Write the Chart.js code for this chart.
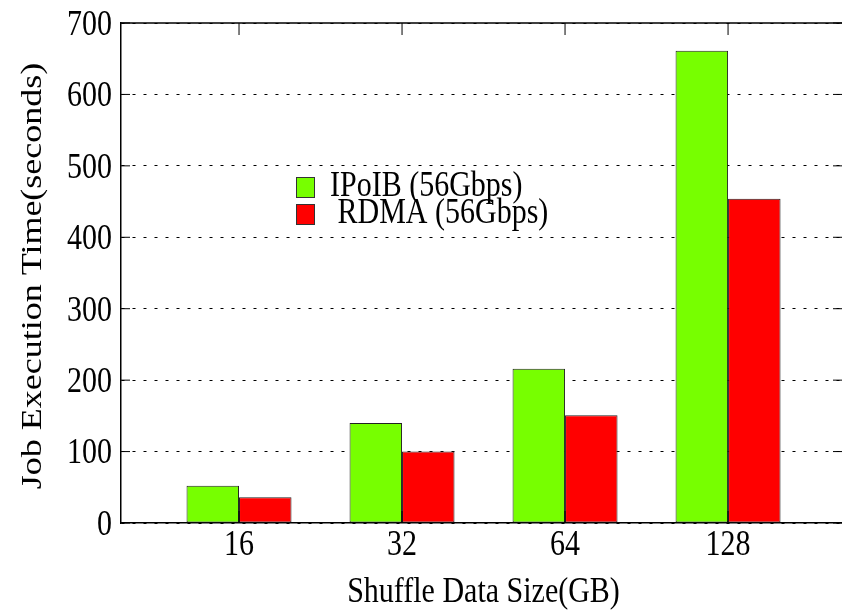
<!DOCTYPE html>
<html>
<head>
<meta charset="utf-8">
<script src="https://cdn.jsdelivr.net/npm/chart.js@4.4.1/dist/chart.umd.min.js"></script>
<style>
  html, body { margin: 0; padding: 0; background: #fff; }
</style>
</head>
<body>
<canvas id="chart" width="842" height="613"></canvas>
<script>
// data
const sizes = ["16", "32", "64", "128"];
const ipoib = [52, 140, 216, 661];
const rdma = [36, 100, 151, 454];
const seriesNames = ["IPoIB (56Gbps)", " RDMA (56Gbps)"];
const seriesColors = ["#77ff00", "#ff0000"];
const xTitle = "Shuffle Data Size(GB)";
const yTitle = "Job Execution Time(seconds)";
const yMax = 700;
const yStep = 100;

const serif = "'Liberation Serif', 'Times New Roman', 'DejaVu Serif', serif";
const FONT = "30px " + serif;
const STRETCH = 1.17; // the original gnuplot text is a bit taller than wide

// draw text stretched vertically like the original export
function tallText(ctx, text, x, y, align, sy) {
  ctx.save();
  ctx.translate(x, y);
  ctx.scale(1, sy || STRETCH);
  ctx.textAlign = align;
  ctx.textBaseline = "alphabetic";
  ctx.fillText(text, 0, 0);
  ctx.restore();
}

// gnuplot-like frame: top border, inward ticks, labels and key
const gnuFrame = {
  id: "gnuFrame",
  afterDatasetsDraw(chart) {
    const ctx = chart.ctx;
    const area = chart.chartArea;
    const xs = chart.scales.x;
    const ys = chart.scales.y;
    ctx.save();
    ctx.strokeStyle = "#000";
    ctx.lineWidth = 1.5;
    ctx.beginPath();
    ctx.moveTo(area.left, area.top);
    ctx.lineTo(area.right, area.top);
    ctx.stroke();

    ctx.lineWidth = 1;
    ctx.beginPath();
    ys.ticks.forEach(function (t) {
      const y = ys.getPixelForValue(t.value);
      ctx.moveTo(area.left, y);
      ctx.lineTo(area.left + 9, y);
      ctx.moveTo(area.right, y);
      ctx.lineTo(area.right - 9, y);
    });
    xs.ticks.forEach(function (t) {
      const x = xs.getPixelForValue(t.value);
      ctx.moveTo(x, area.bottom);
      ctx.lineTo(x, area.bottom - 12);
      ctx.moveTo(x, area.top);
      ctx.lineTo(x, area.top + 12);
    });
    ctx.stroke();

    ctx.font = FONT;
    ctx.fillStyle = "#000";
    // tick labels
    ys.ticks.forEach(function (t) {
      const y = ys.getPixelForValue(t.value);
      tallText(ctx, String(t.value), area.left - 9, y + 11.8, "right");
    });
    xs.ticks.forEach(function (t) {
      const x = xs.getPixelForValue(t.value);
      tallText(ctx, sizes[t.value], x, area.bottom + 32, "center");
    });

    // axis titles
    tallText(ctx, xTitle, (area.left + area.right) / 2 + 2, 602, "center");
    ctx.save();
    ctx.translate(41, (area.top + area.bottom) / 2 + 3);
    ctx.rotate(-Math.PI / 2);
    ctx.scale(1.2, 1);
    ctx.textAlign = "center";
    ctx.textBaseline = "alphabetic";
    ctx.fillText(yTitle, 0, 0);
    ctx.restore();

    // key
    chart.data.datasets.forEach(function (ds, i) {
      const y = 177 + i * 27;
      ctx.fillStyle = ds.backgroundColor;
      ctx.fillRect(296, y, 18, 20);
      ctx.strokeStyle = "#333";
      ctx.strokeRect(296.5, y + 0.5, 18, 20);
      ctx.fillStyle = "#000";
      tallText(ctx, ds.label, 330, y + 19, "left");
    });
    ctx.restore();
  },
};

new Chart(document.getElementById("chart"), {
  type: "bar",
  data: {
    datasets: [
      {
        label: seriesNames[0],
        data: ipoib.map(function (v, i) { return { x: i, y: v }; }),
        backgroundColor: seriesColors[0],
        borderColor: "#222",
        borderWidth: 1,
        borderSkipped: false,
      },
      {
        label: seriesNames[1],
        data: rdma.map(function (v, i) { return { x: i, y: v }; }),
        backgroundColor: seriesColors[1],
        borderColor: "#222",
        borderWidth: 1,
        borderSkipped: false,
      },
    ],
  },
  options: {
    responsive: false,
    animation: false,
    categoryPercentage: 0.644,
    barPercentage: 1,
    layout: { padding: { top: 23, right: 0, left: 0, bottom: 0 } },
    plugins: {
      legend: { display: false },
      tooltip: { enabled: false },
    },
    scales: {
      x: {
        type: "linear",
        offset: false,
        min: -0.724,
        max: 3.699,
        grid: { display: false },
        border: { display: true, color: "#000", width: 1.5 },
        afterBuildTicks: function (axis) {
          axis.ticks = sizes.map(function (s, i) { return { value: i }; });
        },
        afterFit: function (axis) {
          axis.height = 90;
        },
        ticks: { display: false },
      },
      y: {
        min: 0,
        max: yMax,
        grid: { color: "#000", lineWidth: 1, drawTicks: false },
        border: { display: true, color: "#000", width: 1.5, dash: [3, 8] },
        afterFit: function (axis) {
          axis.width = 121;
        },
        ticks: { stepSize: yStep, display: false },
      },
    },
  },
  plugins: [gnuFrame],
});
</script>
</body>
</html>
